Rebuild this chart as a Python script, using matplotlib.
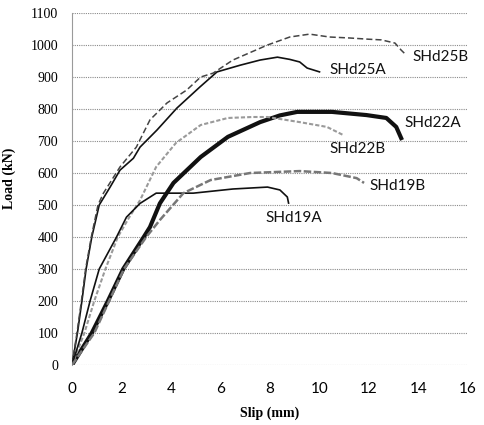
import matplotlib
matplotlib.use("Agg")
import matplotlib.pyplot as plt

# ---- data (slip mm, load kN) ----
s25A = [0, 0.22, 0.4, 0.57, 0.8, 1.1, 1.54, 1.94, 2.48, 2.75, 3.43, 4.24, 5.17, 5.86, 6.8, 7.6, 8.3, 8.8, 9.2, 9.5, 10.0]
l25A = [0, 100, 200, 300, 400, 500, 556, 609, 646, 681, 734, 803, 869, 916, 937, 953, 962, 955, 947, 928, 916]

s25B = [0, 0.2, 0.38, 0.55, 0.78, 1.05, 1.27, 1.94, 2.6, 3.15, 3.84, 4.63, 5.2, 5.7, 6.5, 7.9, 8.8, 9.6, 10.4, 11.2, 12.0, 12.5, 13.05, 13.3, 13.5]
l25B = [0, 100, 200, 300, 400, 500, 537, 619, 681, 766, 819, 859, 900, 912, 953, 1000, 1025, 1034, 1025, 1022, 1018, 1016, 1006, 984, 969]

s22A = [0, 0.8, 1.45, 2.07, 2.9, 3.15, 3.55, 4.1, 5.2, 6.3, 7.6, 8.4, 9.1, 10.5, 11.9, 12.7, 13.1, 13.3]
l22A = [0, 100, 200, 300, 400, 431, 505, 569, 650, 713, 759, 780, 791, 791, 781, 772, 744, 709]

s22B = [0, 0.5, 0.9, 1.35, 1.85, 2.3, 2.75, 3.4, 4.2, 5.2, 6.3, 7.3, 7.9, 9.2, 10.3, 10.95]
l22B = [0, 100, 200, 300, 400, 460, 515, 619, 694, 750, 772, 775, 775, 759, 744, 719]

s19A = [0, 0.4, 0.73, 1.1, 1.8, 2.2, 2.75, 3.4, 4.0, 4.9, 6.5, 7.9, 8.4, 8.7, 8.75]
l19A = [0, 100, 200, 300, 400, 462, 505, 537, 537, 537, 550, 556, 547, 525, 506]

s19B = [0, 0.9, 1.5, 2.1, 3.0, 3.55, 4.5, 5.6, 7.2, 9.2, 10.5, 11.5, 11.8]
l19B = [0, 100, 200, 300, 400, 453, 537, 578, 600, 606, 600, 584, 569]

names = ["SHd25B", "SHd25A", "SHd22A", "SHd22B", "SHd19B", "SHd19A"]
label_x = [13.74, 10.4, 13.45, 10.4, 12.0, 7.8]
label_y = [962, 922, 756, 675, 559, 459]

xticks = list(range(0, 17, 2))
yticks = list(range(0, 1101, 100))

fig = plt.figure(figsize=(4.84, 4.25), dpi=100)
ax = fig.add_axes([72/484, 60/425, 396/484, 352/425])

for y in yticks:
    ax.axhline(y, color="#8a8a8a", lw=0.8, ls=(0, (1, 1)), zorder=1)

ax.plot(s25A, l25A, color="#111111", lw=1.2, zorder=3)
ax.plot(s25B, l25B, color="#444444", lw=1.1, ls=(0, (4, 2)), zorder=3)
ax.plot(s22A, l22A, color="#111111", lw=3.0, zorder=3)
ax.plot(s22B, l22B, color="#9a9a9a", lw=1.5, ls=(0, (2, 1)), zorder=3)
ax.plot(s19A, l19A, color="#111111", lw=1.2, zorder=3)
ax.plot(s19B, l19B, color="#777777", lw=1.8, ls=(0, (3, 1)), zorder=3)

for n, x, y in zip(names, label_x, label_y):
    ax.text(x, y, n, fontsize=11, family="Lato", ha="left", va="center", color="#111111")

ax.set_xlim(0, 16)
ax.set_ylim(0, 1100)
ax.set_xticks(xticks)
ax.set_yticks(yticks)
ax.tick_params(length=0)
ax.set_xticklabels([str(v) for v in xticks], fontsize=11, family="Lato")
ax.set_yticklabels([str(v) for v in yticks], fontsize=10, family="Liberation Serif")
ax.tick_params(axis="x", pad=12)
ax.tick_params(axis="y", pad=10)
for sp in ["top", "right", "bottom"]:
    ax.spines[sp].set_visible(False)
ax.spines["left"].set_color("#9a9a9a")
ax.spines["left"].set_linestyle((0, (1, 1)))
ax.spines["left"].set_linewidth(0.8)

ax.set_xlabel("Slip (mm)", fontsize=10, family="Liberation Serif", fontweight="bold", labelpad=8)
ax.set_ylabel("Load (kN)", fontsize=10, family="Liberation Serif", fontweight="bold")
ax.yaxis.set_label_coords(-0.141, 0.531)

fig.savefig("out.png", dpi=100)
